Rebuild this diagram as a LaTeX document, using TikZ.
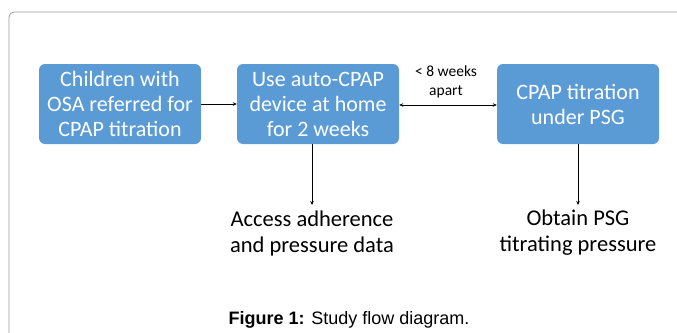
\documentclass[tikz,border=0pt]{standalone}
\usepackage{fontspec}
\setmainfont{Carlito}
\newfontfamily\capfont{Liberation Sans}
\usetikzlibrary{arrows.meta}
\definecolor{boxblue}{HTML}{5B9BD5}
\definecolor{frame}{HTML}{9A9A9A}
\begin{document}
\begin{tikzpicture}[x=1pt,y=-1pt,
  flowbox/.style={fill=boxblue, draw=none, rounded corners=6pt, minimum width=162pt, minimum height=80pt,
    text=white, align=center, font=\fontsize{22}{25}\selectfont, inner sep=0pt},
  plain/.style={align=center, font=\fontsize{22.5}{26}\selectfont, inner sep=0pt},
  conn/.style={line width=0.8pt, -{Stealth[length=4pt,width=3.5pt]}},
  conn2/.style={line width=0.8pt, {Stealth[length=4pt,width=3.5pt]}-{Stealth[length=4pt,width=3.5pt]}}]
\useasboundingbox (0,0) rectangle (677,332);
\clip (0,0) rectangle (677,332);
\draw[frame, line width=0.8pt, rounded corners=5pt] (9,12) rectangle (700,360);
\node[flowbox] (b1) at (120,104) {Children with\\OSA referred for\\CPAP titration};
\node[flowbox] (b2) at (318,104) {Use auto-CPAP\\device at home\\for 2 weeks};
\node[flowbox] (b3) at (578,104) {CPAP titration\\under PSG};
\node[plain] (acc) at (312,233) {Access adherence\\and pressure data};
\node[plain] (obt) at (578,233) {Obtain PSG\\titrating pressure};
\node[align=center, font=\fontsize{15.5}{19}\selectfont, inner sep=0pt] (lab) at (446,82) {< 8 weeks\\apart};
\coordinate (a2) at (312,205);
\coordinate (a3) at (578,205);
\draw[conn] (b1.east) -- (b2.west);
\draw[conn2] ([yshift=-1pt]b2.east) -- ([yshift=-1pt]b3.west);
\draw[conn] (b2.south -| a2) -- (a2);
\draw[conn] (b3.south -| a3) -- (a3);
\node[font=\capfont\fontsize{18}{21}\selectfont, inner sep=0pt] (cap) at (349,320) {\textbf{Figure 1:} Study flow diagram.};
\end{tikzpicture}
\end{document}
